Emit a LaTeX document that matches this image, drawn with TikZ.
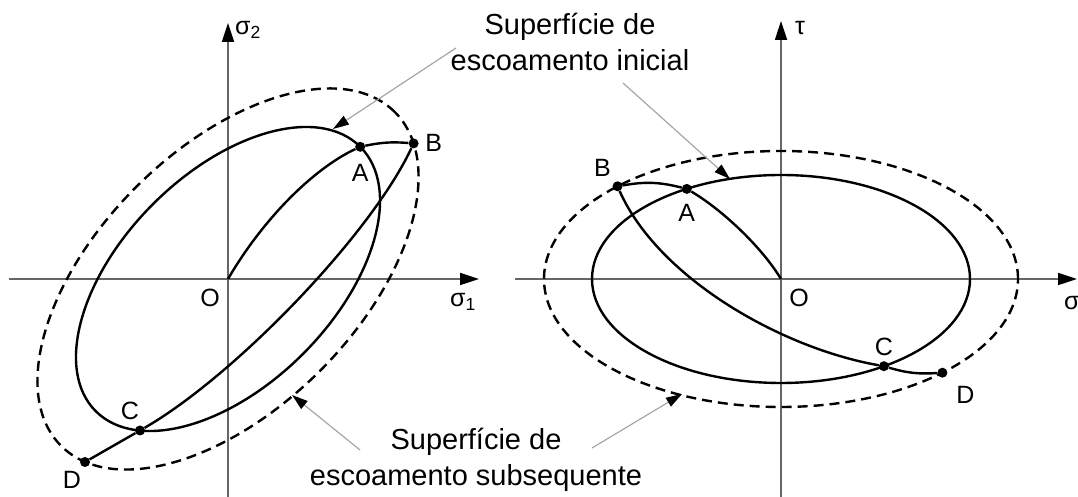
\documentclass[tikz,border=0pt]{standalone}
\usepackage{fontspec}
\setmainfont{Liberation Sans}
\usetikzlibrary{arrows.meta, positioning}

\begin{document}
\begin{tikzpicture}[
    x=1pt, y=1pt,
    every node/.style={font=\fontsize{25}{28}\selectfont},
    axis/.style={draw=black!60, line width=1.7pt, -{Triangle[length=19pt, width=12pt, color=black]}},
    surface/.style={line width=2.4pt},
    subsequent/.style={surface, dash pattern=on 10pt off 6pt},
    dot/.style={circle, fill=black, inner sep=0pt, minimum size=10pt},
    ptlabel/.style={inner sep=0pt, on grid},
    axlabel/.style={inner sep=0pt, anchor=west},
    leader/.style={draw=black!35, line width=1.2pt, -{Triangle[length=16pt, width=10pt, color=black]}},
    caption/.style={align=center, inner sep=0pt, font=\fontsize{29}{36}\selectfont}
]
\useasboundingbox (0,0) rectangle (1078,497);

% Left: principal stress plane
\begin{scope}[shift={(228,218)}]
  \coordinate (lO) at (0,0);
  \coordinate (l-xs) at (-219,0);
  \coordinate (l-xe) at (251,0);
  \coordinate (l-ys) at (0,-218);
  \coordinate (l-ye) at (0,256);
  \draw[axis] (l-xs) -- (l-xe);
  \draw[axis] (l-ys) -- (l-ye);
  \node[axlabel] at (7,249) {σ\textsubscript{2}};
  \node[axlabel] at (222,-23) {σ\textsubscript{1}};
  \node[inner sep=0pt] at (-18,-19) {O};

  \draw[surface, rotate=45] (0,0) ellipse [x radius=187, y radius=106];
  \draw[subsequent, rotate=45] (0,0) ellipse [x radius=236, y radius=130];

  \node[dot] (lA) at (132.2,132.2) {};
  \node[dot] (lB) at (185.6,135.6) {};
  \node[dot] (lC) at (-88,-151.5) {};
  \node[dot] (lD) at (-143,-183) {};
  \node[ptlabel, below=26pt of lA] {A};
  \node[ptlabel, right=20pt of lB] {B};
  \node[ptlabel, above left=20pt and 10pt of lC] {C};
  \node[ptlabel, below left=18pt and 13pt of lD] {D};

  \draw[surface] (lO) .. controls +(35,60) and +(-47,-22) .. (lA);
  \draw[surface] (lA) to[bend left=8] (lB);
  \draw[surface] (lB) .. controls +(-42.3,-90.6) and +(95.3,55) .. (lC);
  \draw[surface] (lC) -- (lD);
\end{scope}

% Right: normal and shear stress plane
\begin{scope}[shift={(781,218)}]
  \coordinate (rO) at (0,0);
  \coordinate (r-xs) at (-266,0);
  \coordinate (r-xe) at (296,0);
  \coordinate (r-ys) at (0,-218);
  \coordinate (r-ye) at (0,258);
  \draw[axis] (r-xs) -- (r-xe);
  \draw[axis] (r-ys) -- (r-ye);
  \node[axlabel] at (14,251) {τ};
  \node[axlabel] at (283,-24) {σ};
  \node[inner sep=0pt] at (18,-19) {O};

  \draw[surface] (0,0) ellipse [x radius=189, y radius=104];
  \draw[subsequent] (0,0) ellipse [x radius=237, y radius=128];

  \node[dot] (rA) at (-94.2,90.1) {};
  \node[dot] (rB) at (-163.5,92.7) {};
  \node[dot] (rC) at (102.9,-87.2) {};
  \node[dot] (rD) at (161.4,-93.7) {};
  \node[ptlabel, below=24pt of rA] {A};
  \node[ptlabel, above left=18pt and 15pt of rB] {B};
  \node[ptlabel, above=19pt of rC] {C};
  \node[ptlabel, below right=22pt and 23pt of rD] {D};

  \draw[surface] (rO) .. controls +(-20,33) and +(34.2,-20.1) .. (rA);
  \draw[surface] (rA) to[bend right=12] (rB);
  \draw[surface] (rB) .. controls +(40.7,-91.4) and +(-103.4,18.2) .. (rC);
  \draw[surface] (rC) to[bend right=10] (rD);
\end{scope}

% Captions and leaders
\node[caption] (initial) at (570,455) {Superfície de\\escoamento inicial};
\node[caption] (subseq) at (476,37) {Superfície de\\escoamento subsequente};

\coordinate (ini-l) at (456,449);
\coordinate (ini-lt) at (333,368);
\coordinate (ini-r) at (623,414);
\coordinate (ini-rt) at (730,318);
\coordinate (sub-l) at (360,47);
\coordinate (sub-lt) at (292,102);
\coordinate (sub-r) at (592,49);
\coordinate (sub-rt) at (682,103);
\draw[leader] (ini-l) -- (ini-lt);
\draw[leader] (ini-r) -- (ini-rt);
\draw[leader] (sub-l) -- (sub-lt);
\draw[leader] (sub-r) -- (sub-rt);

\end{tikzpicture}
\end{document}
